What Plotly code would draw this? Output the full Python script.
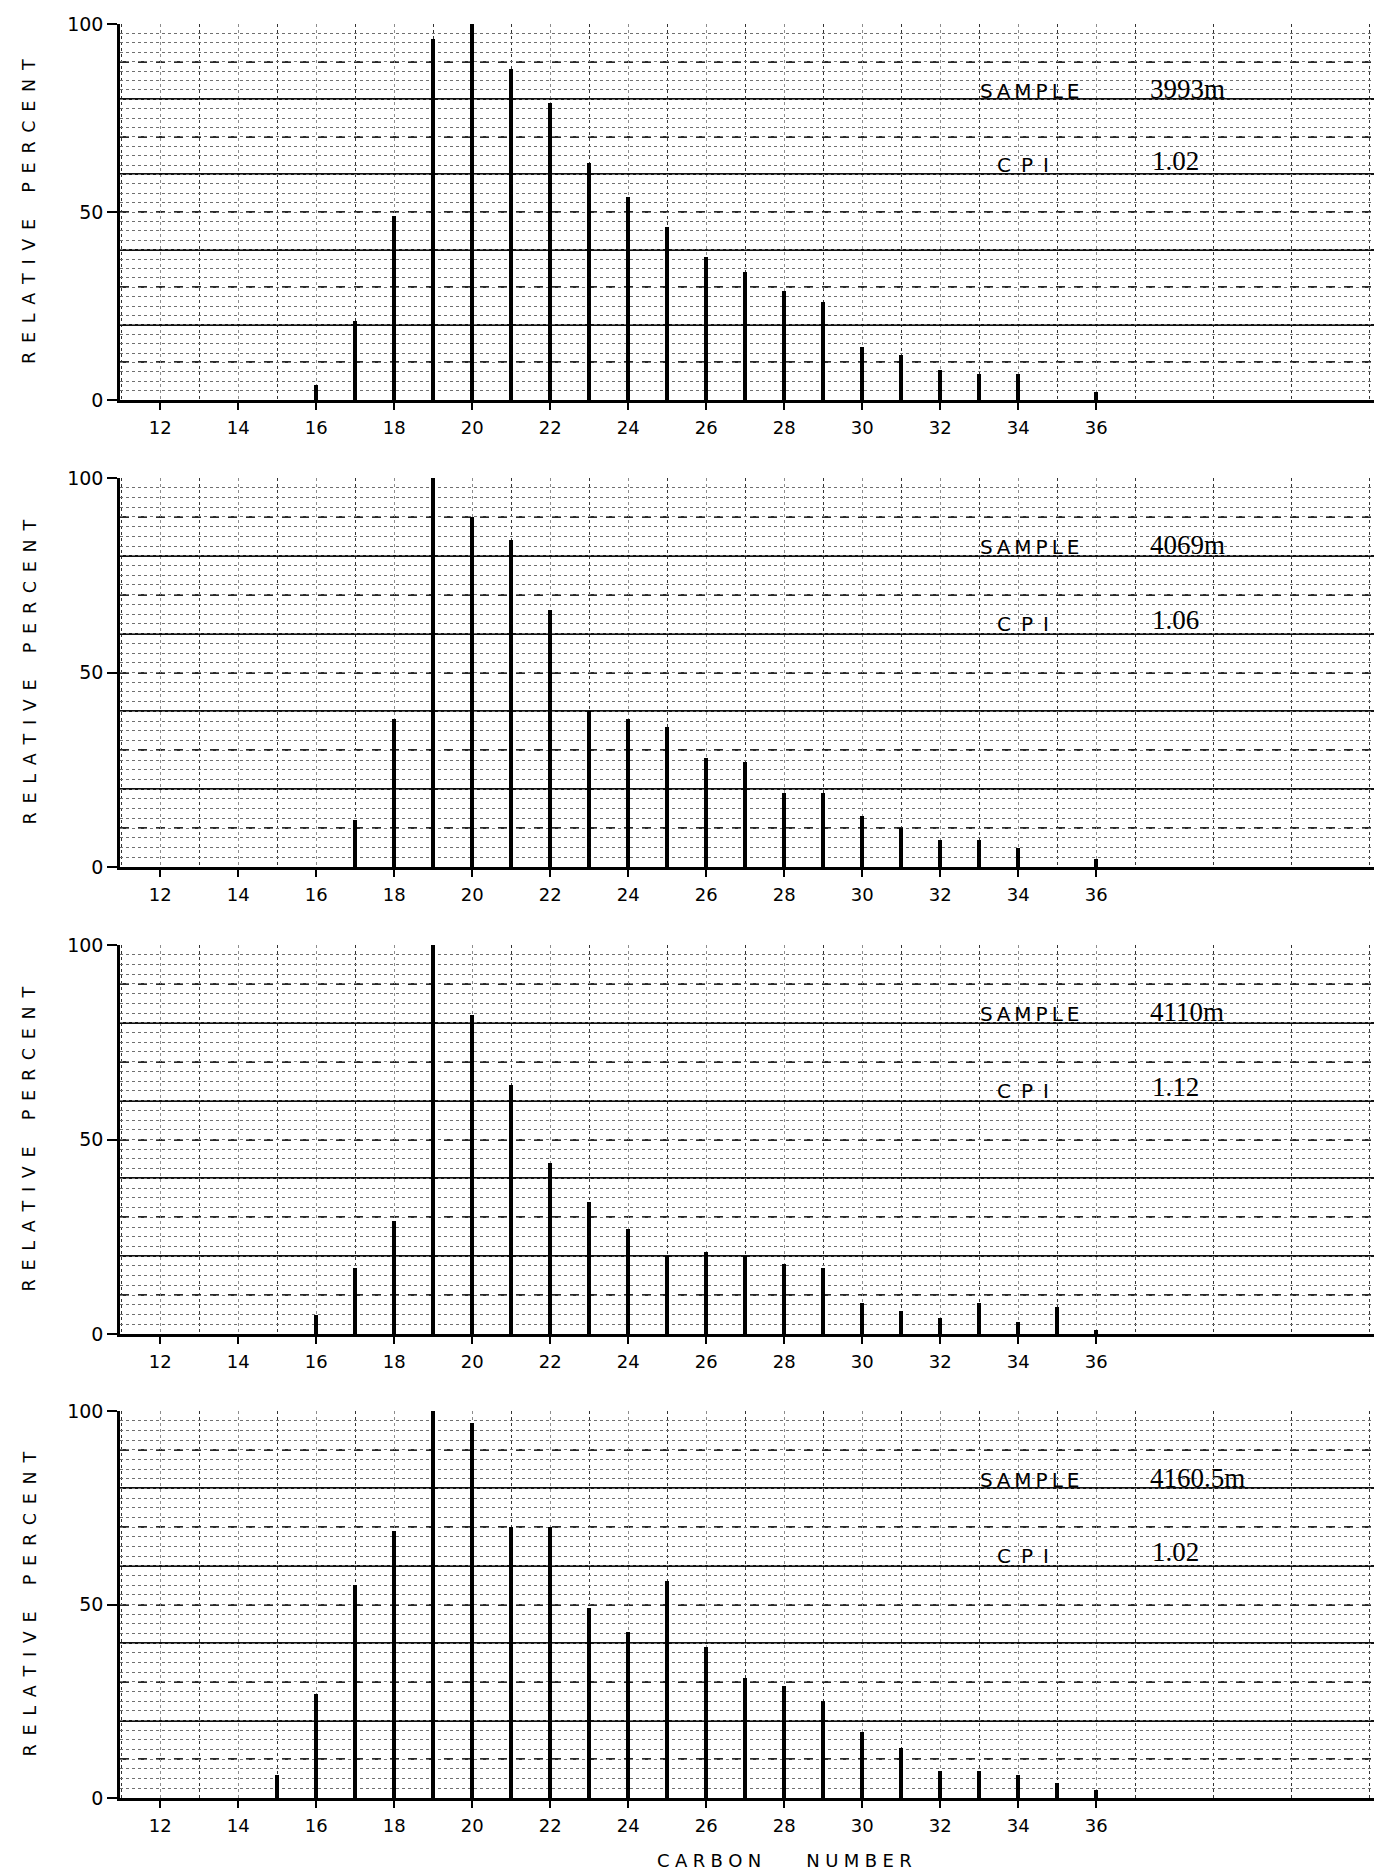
import plotly.graph_objects as go

# ---------------- data ----------------
carbon = list(range(15, 37))  # C15 .. C36
rel_3993 = [0, 4, 21, 49, 96, 100, 88, 79, 63, 54, 46, 38, 34, 29, 26, 14, 12, 8, 7, 7, 0, 2]
rel_4069 = [0, 0, 12, 38, 100, 90, 84, 66, 40, 38, 36, 28, 27, 19, 19, 13, 10, 7, 7, 5, 0, 2]
rel_4110 = [0, 5, 17, 29, 100, 82, 64, 44, 34, 27, 20, 21, 20, 18, 17, 8, 6, 4, 8, 3, 7, 1]
rel_4160 = [6, 27, 55, 69, 100, 97, 70, 70, 49, 43, 56, 39, 31, 29, 25, 17, 13, 7, 7, 6, 4, 2]
series = [rel_3993, rel_4069, rel_4110, rel_4160]
sample_labels = ["3993m", "4069m", "4110m", "4160.5m"]
cpi_labels = ["1.02", "1.06", "1.12", "1.02"]
x_tick_vals = list(range(12, 37, 2))
x_paper_lines = list(range(11, 45, 2))
y_tick_vals = [0, 50, 100]

# ---------------- layout helpers ----------------
W, H = 1382, 1874
ML = 112
PW = W - ML
panels_px = [(16, 392), (470, 859), (937, 1326), (1403, 1790)]  # (y=100 px, y=0 px)
X_RANGE = [10.97, 10.97 + PW / 39.0]
SANS = "DejaVu Sans"
SERIF = "Liberation Serif"
sp = "\u2002"

def spaced(word, gap=sp):
    return gap.join(list(word))

fig = go.Figure()
layout = {}
annotations = []

for i, vals in enumerate(series):
    n = i + 1
    xa = "x" if n == 1 else f"x{n}"
    ya = "y" if n == 1 else f"y{n}"
    yg = f"y{n + 4}"
    yt = f"y{n + 8}"
    top, bot = panels_px[i]
    dom = [1 - bot / H, 1 - top / H]

    fig.add_trace(go.Scatter(x=[], y=[], xaxis=xa, yaxis=yt, showlegend=False, hoverinfo="skip"))
    fig.add_trace(go.Scatter(x=[], y=[], xaxis=xa, yaxis=yg, showlegend=False, hoverinfo="skip"))
    fig.add_trace(go.Bar(
        x=carbon, y=vals, xaxis=xa, yaxis=ya, width=0.09,
        marker=dict(color="black", line=dict(width=0)),
        showlegend=False, hovertemplate="C%{x}: %{y}<extra></extra>",
    ))

    xkey = "xaxis" if n == 1 else f"xaxis{n}"
    ykey = "yaxis" if n == 1 else f"yaxis{n}"
    layout[xkey] = dict(
        domain=[0, 1], anchor=ya, range=X_RANGE, tickmode="array", automargin=False,
        tickvals=x_tick_vals, ticktext=[str(v) for v in x_tick_vals],
        ticks="outside", ticklen=7, tickwidth=1.5, tickcolor="black",
        showline=True, linewidth=3, linecolor="black",
        showgrid=True, gridcolor="#8c8c8c", griddash="dot", gridwidth=1,
        zeroline=False,
        tickfont=dict(family=SANS, size=18, color="black"),
        ticklabelstandoff=2,
        minor=dict(tickmode="array", tickvals=x_paper_lines, showgrid=True,
                   gridcolor="#333333", griddash="dot", gridwidth=1.3, ticks=""),
    )
    layout[ykey] = dict(
        domain=dom, anchor=xa, range=[0, 100], tickmode="array", automargin=False,
        tickvals=y_tick_vals, ticktext=[str(v) for v in y_tick_vals],
        ticks="outside", ticklen=10, tickwidth=1.5, tickcolor="black",
        showline=True, linewidth=2.5, linecolor="black",
        showgrid=False, zeroline=False,
        tickfont=dict(family=SANS, size=19, color="black"),
    )
    layout[f"yaxis{n + 4}"] = dict(
        overlaying=ya, anchor=xa, range=[0, 100], tickmode="linear", tick0=0, dtick=20,
        automargin=False,
        showgrid=True, gridcolor="#111111", gridwidth=2.2,
        minor=dict(dtick=10, showgrid=True, gridcolor="#2a2a2a", griddash="dash", gridwidth=1.6),
        showticklabels=False, ticks="", showline=False, zeroline=False,
    )
    layout[f"yaxis{n + 8}"] = dict(
        overlaying=ya, anchor=xa, range=[0, 100], tickmode="linear", tick0=0, dtick=2.5,
        automargin=False,
        showgrid=True, gridcolor="#707070", griddash="dot", gridwidth=1,
        showticklabels=False, ticks="", showline=False, zeroline=False,
    )

    annotations += [
        dict(x=34.3, y=82.2, xref=xa, yref=ya, text=spaced("SAMPLE", "\u2009"),
             xanchor="center", yanchor="middle",
             showarrow=False, font=dict(family=SANS, size=20, color="black")),
        dict(x=37.33, y=82.8, xref=xa, yref=ya, text=sample_labels[i],
             xanchor="left", yanchor="middle",
             showarrow=False, font=dict(family=SERIF, size=27, color="black")),
        dict(x=34.12, y=62.5, xref=xa, yref=ya, text=spaced("CPI", sp),
             xanchor="center", yanchor="middle",
             showarrow=False, font=dict(family=SANS, size=20, color="black")),
        dict(x=37.38, y=63.6, xref=xa, yref=ya, text=cpi_labels[i],
             xanchor="left", yanchor="middle",
             showarrow=False, font=dict(family=SERIF, size=27, color="black")),
        dict(x=(21 - ML) / PW, y=(dom[0] + dom[1]) / 2, xref="paper", yref="paper",
             text=spaced("RELATIVE") + sp * 3 + spaced("PERCENT"), textangle=-90,
             xanchor="center", yanchor="middle",
             showarrow=False, font=dict(family=SANS, size=17.5, color="black")),
    ]

annotations.append(dict(
    x=(776 - ML) / PW, y=1 - 1852 / H, xref="paper", yref="paper",
    text=spaced("CARBON", "\u2009\u200a") + sp * 5 + spaced("NUMBER", "\u2009\u200a"),
    xanchor="center", yanchor="middle",
    showarrow=False, font=dict(family=SANS, size=18, color="black"),
))

fig.update_layout(
    template="none",
    width=W, height=H,
    margin=dict(l=ML, r=0, t=0, b=0, autoexpand=False),
    paper_bgcolor="white", plot_bgcolor="white",
    font=dict(family=SANS, color="black"),
    bargap=0, showlegend=False,
    annotations=annotations,
    **layout,
)

fig.write_html("out.html")
